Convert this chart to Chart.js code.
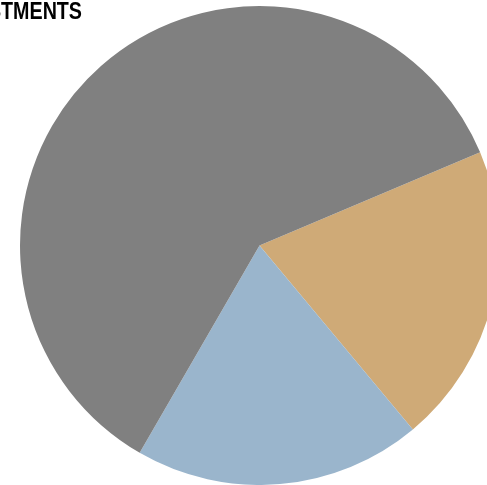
<!DOCTYPE html>
<html>
<head>
<meta charset="utf-8">
<script src="https://cdn.jsdelivr.net/npm/chart.js@4/dist/chart.umd.min.js"></script>
<style>
html,body{margin:0;padding:0;overflow:hidden;background:#fff;width:487px;height:485px;}
#wrap{position:absolute;left:0;top:0;width:487px;height:485px;overflow:hidden;}
canvas{position:absolute;left:0;top:0;}
</style>
</head>
<body>
<div id="wrap"><canvas id="c" width="499" height="485"></canvas></div>
<script>
const titleText = "INVESTMENTS";
const categories = ["Category A", "Category B", "Category C"];
const values = [20.3, 19.4, 60.3];
const colors = ["#cfaa77", "#9ab5cc", "#808080"];

const titlePlugin = {
  id: 'clippedTitle',
  afterDraw(chart) {
    const ctx = chart.ctx;
    ctx.save();
    ctx.translate(82, 19);
    ctx.scale(0.82, 1);
    ctx.font = "bold 24px 'Liberation Sans', Arial, sans-serif";
    ctx.fillStyle = "#000";
    ctx.textAlign = "right";
    ctx.textBaseline = "alphabetic";
    ctx.fillText(titleText, 0, 0);
    ctx.restore();
  }
};

new Chart(document.getElementById('c'), {
  type: 'pie',
  data: {
    labels: categories,
    datasets: [{
      data: values,
      backgroundColor: colors,
      borderWidth: 0
    }]
  },
  options: {
    responsive: false,
    animation: false,
    rotation: 67.1,
    layout: { padding: { left: 20, top: 6, right: 0, bottom: 0 } },
    plugins: {
      legend: { display: false },
      title: { display: false },
      tooltip: { enabled: false }
    }
  },
  plugins: [titlePlugin]
});
</script>
</body>
</html>
